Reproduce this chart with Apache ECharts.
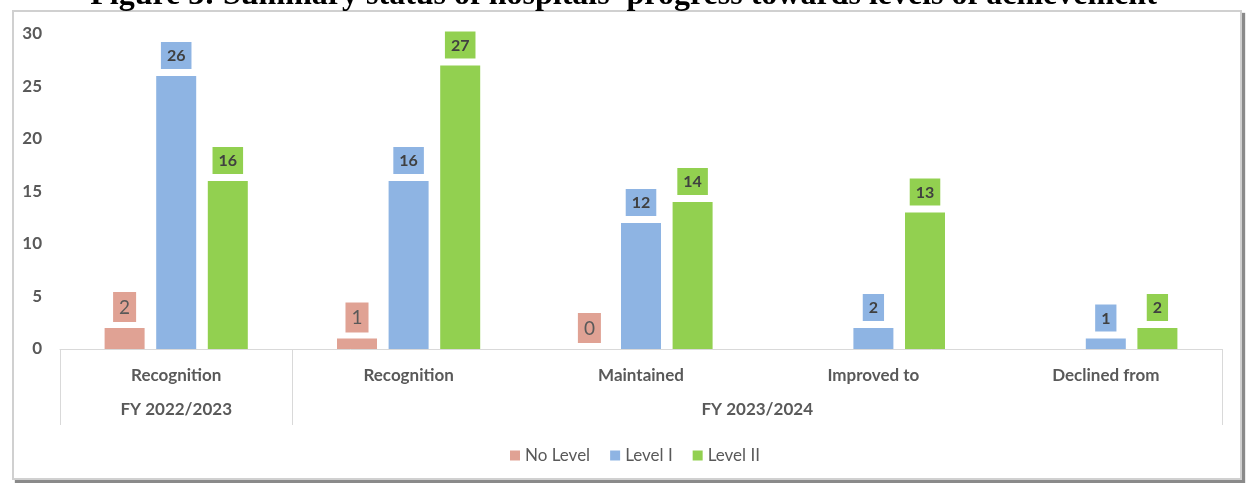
<!DOCTYPE html>
<html lang="en">
<head>
    <meta charset="UTF-8" />
    <title>Hospitals progress</title>
    <style>
        body {
            margin: 0;
            padding: 0;
            background: #fff;
        }
        .frame {
            position: absolute;
            left: 12px;
            top: 10px;
            width: 1226px;
            height: 466px;
            border: 2px solid #d0d0d0;
            box-shadow: 3px 3px 1px #8a8a8a;
            background: #fff;
        }
        .chart {
            position: absolute;
            left: 0;
            top: 0;
            width: 1247px;
            height: 483px;
        }
    </style>
</head>
<body>
<div class="frame"></div>
<div class="chart"></div>
<script src="https://cdn.jsdelivr.net/npm/echarts@6/dist/echarts.min.js"></script>
<script>
    // data
    const categories = ['Recognition', 'Recognition', 'Maintained', 'Improved to', 'Declined from'];
    const groupLabels = ['', 'FY 2022/2023', '', '', '', '', 'FY 2023/2024', '', '', '', ''];
    const groupDividers = [0, 2, 10];
    const noLevel = [2, 1, 0, null, null];
    const levelOne = [26, 16, 12, 2, 1];
    const levelTwo = [16, 27, 14, 13, 2];
    const yTicks = { min: 0, max: 30, interval: 5 };

    const grey = '#595959';
    const font = 'Lato';

    function boxLabel(bg, big) {
        return {
            show: true,
            position: 'top',
            distance: big ? 6 : 7,
            backgroundColor: bg,
            color: big ? grey : '#404040',
            fontFamily: font,
            fontSize: big ? 19 : 16,
            fontWeight: big ? 'normal' : 'bold',
            padding: [6, 6, 5, 6]
        };
    }

    const chart = echarts.init(document.querySelector('.chart'));
    const option = {
        title: {
            text: "Figure 3: Summary status of hospitals' progress towards levels of achievement",
            left: 'center',
            top: -25,
            textStyle: {
                fontFamily: 'Liberation Serif',
                fontSize: 32,
                fontWeight: 'bold',
                color: '#000'
            }
        },
        grid: { left: 60, right: 25, top: 34, bottom: 134 },
        legend: {
            bottom: 14,
            left: 505,
            icon: 'rect',
            itemWidth: 10,
            itemHeight: 10,
            itemGap: 20,
            textStyle: { fontFamily: font, fontSize: 17, color: grey }
        },
        xAxis: [
            {
                type: 'category',
                data: categories,
                axisLine: { lineStyle: { color: '#d9d9d9', width: 1 } },
                axisTick: { show: false },
                axisLabel: {
                    margin: 18,
                    interval: 0,
                    fontFamily: font,
                    fontSize: 17,
                    fontWeight: 'bold',
                    color: grey
                }
            },
            {
                type: 'category',
                position: 'bottom',
                boundaryGap: false,
                data: groupLabels,
                axisLine: { show: false },
                axisTick: {
                    show: true,
                    interval: (i) => groupDividers.includes(i),
                    length: 76,
                    lineStyle: { color: '#d9d9d9' }
                },
                axisLabel: {
                    margin: 52,
                    interval: 0,
                    fontFamily: font,
                    fontSize: 17,
                    fontWeight: 'bold',
                    color: grey
                }
            }
        ],
        yAxis: {
            type: 'value',
            min: yTicks.min,
            max: yTicks.max,
            interval: yTicks.interval,
            splitLine: { show: false },
            axisLine: { show: false },
            axisLabel: {
                margin: 18,
                fontFamily: font,
                fontSize: 17,
                fontWeight: 'bold',
                color: grey
            }
        },
        series: [
            {
                name: 'No Level',
                type: 'bar',
                data: noLevel,
                barWidth: 40,
                barGap: '29%',
                itemStyle: { color: '#e0a294' },
                label: boxLabel('#e0a294', true)
            },
            {
                name: 'Level I',
                type: 'bar',
                data: levelOne,
                barWidth: 40,
                itemStyle: { color: '#8eb4e3' },
                label: boxLabel('#8eb4e3', false)
            },
            {
                name: 'Level II',
                type: 'bar',
                data: levelTwo,
                barWidth: 40,
                itemStyle: { color: '#92d050' },
                label: boxLabel('#92d050', false)
            }
        ]
    };
    chart.setOption(option);
</script>
</body>
</html>
